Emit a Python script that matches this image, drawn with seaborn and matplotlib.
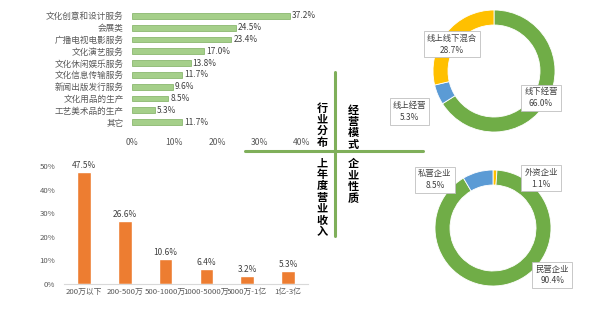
import matplotlib
matplotlib.use("Agg")
import matplotlib.pyplot as plt
import seaborn as sns
from matplotlib.lines import Line2D

industries = ['文化创意和设计服务', '会展类', '广播电视电影服务', '文化演艺服务', '文化休闲娱乐服务',
              '文化信息传输服务', '新闻出版发行服务', '文化用品的生产', '工艺美术品的生产', '其它']
industry_pct = [37.2, 24.5, 23.4, 17.0, 13.8, 11.7, 9.6, 8.5, 5.3, 11.7]
industry_ticks = [0, 10, 20, 30, 40]

revenue_cats = ['200万以下', '200-500万', '500-1000万', '1000-5000万', '5000万-1亿', '1亿-3亿']
revenue_pct = [47.5, 26.6, 10.6, 6.4, 3.2, 5.3]
revenue_ticks = [0, 10, 20, 30, 40, 50]

mode_labels = ['线下经营', '线上经营', '线上线下混合']
mode_pct = [66.0, 5.3, 28.7]

nature_labels = ['外资企业', '民营企业', '私营企业']
nature_pct = [1.1, 90.4, 8.5]

section_titles = ['行业分布', '经营模式', '上年度营业收入', '企业性质']

sns.set_theme(style='white')
plt.rcParams['font.family'] = ['Noto Sans CJK SC', 'DejaVu Sans']

W, H = 600, 328
fig = plt.figure(figsize=(W / 100, H / 100), dpi=100)
fig.patch.set_facecolor('white')

def box(x0, y0, x1, y1):
    # pixel box (top-left origin) -> figure fraction rect
    return [x0 / W, 1 - y1 / H, (x1 - x0) / W, (y1 - y0) / H]

gray = '#595959'

# ---- Top-left: industry horizontal bar ----
ax1 = fig.add_axes(box(132, 10, 302, 128))
sns.barplot(x=industry_pct, y=industries, orient='h', ax=ax1, color='#A5CF8A',
            edgecolor='#7DAE5F', linewidth=0.5, width=0.5, saturation=1)
ax1.set_xlim(0, 40)
ax1.set_xticks(industry_ticks)
ax1.set_xticklabels([f'{t}%' for t in industry_ticks])
for s in ax1.spines.values():
    s.set_visible(False)
ax1.tick_params(axis='both', length=0, labelsize=6.2, colors=gray)
ax1.tick_params(axis='x', pad=7)
ax1.tick_params(axis='y', pad=6)
ax1.set_xlabel('')
ax1.set_ylabel('')
ax1.bar_label(ax1.containers[0], labels=[f'{v:.1f}%' for v in industry_pct],
              fontsize=6, color='#404040', padding=1.5)

# ---- Bottom-left: revenue vertical bar ----
ax2 = fig.add_axes(box(63.6, 166, 308.4, 284))
sns.barplot(x=revenue_cats, y=revenue_pct, ax=ax2, color='#ED7D31', width=0.33, saturation=1)
ax2.set_ylim(0, 50)
ax2.set_yticks(revenue_ticks)
ax2.set_yticklabels([f'{t}%' for t in revenue_ticks])
for k, s in ax2.spines.items():
    s.set_visible(k == 'bottom')
ax2.spines['bottom'].set_color('#D9D9D9')
ax2.spines['bottom'].set_linewidth(0.8)
ax2.tick_params(axis='both', length=0, labelsize=5.6, colors=gray)
ax2.tick_params(axis='y', pad=6)
ax2.tick_params(axis='x', pad=3)
ax2.set_xlabel('')
ax2.set_ylabel('')
ax2.bar_label(ax2.containers[0], labels=[f'{v:.1f}%' for v in revenue_pct],
              fontsize=6, color='#404040', padding=1.5)

# ---- Donuts ----
bbox_kw = dict(boxstyle='square,pad=0.35', fc='white', ec='#BFBFBF', lw=0.6)

def donut(cx, cy, r, values, colors, labels, positions, width_px=15):
    half = 70
    ax = fig.add_axes(box(cx - half, cy - half, cx + half, cy + half))
    ax.pie(values, colors=colors, startangle=90, counterclock=False, radius=1,
           wedgeprops=dict(width=width_px / r, edgecolor='white', linewidth=0.6))
    lim = half / r
    ax.set_xlim(-lim, lim)
    ax.set_ylim(-lim, lim)
    ax.set_aspect('equal')
    ax.axis('off')
    for lab, v, (px, py) in zip(labels, values, positions):
        ax.text(px, py, f'{lab}\n{v:.1f}%', ha='center', va='center', fontsize=6,
                color='#404040', bbox=bbox_kw, linespacing=1.4, clip_on=False, zorder=5)
    return ax

green, blue, yellow = '#70AD47', '#5B9BD5', '#FFC000'
donut(494, 71, 61, mode_pct, [green, blue, yellow], mode_labels,
      [(0.77, -0.44), (-1.38, -0.66), (-0.69, 0.44)])
donut(493, 228, 58, nature_pct, [yellow, green, blue], nature_labels,
      [(0.83, 0.86), (1.02, -0.81), (-1.0, 0.83)])

# ---- Centre cross ----
lc = '#7FAF5A'
fig.add_artist(Line2D([335 / W, 335 / W], [1 - 72 / H, 1 - 236 / H], color=lc, lw=2.2,
                      transform=fig.transFigure))
fig.add_artist(Line2D([245 / W, 423 / W], [1 - 151 / H, 1 - 151 / H], color=lc, lw=2.2,
                      transform=fig.transFigure))

# vertical stacked titles: first-character centre (px) and pitch
title_start = [(322, 108), (353, 110), (322, 163), (353, 164)]
pitch = 11.4
for t, (px, py) in zip(section_titles, title_start):
    for i, ch in enumerate(t):
        fig.text(px / W, 1 - (py + i * pitch) / H, ch, ha='center', va='center',
                 fontsize=8, fontweight='bold', color='black')

fig.savefig('out.png', dpi=100)
